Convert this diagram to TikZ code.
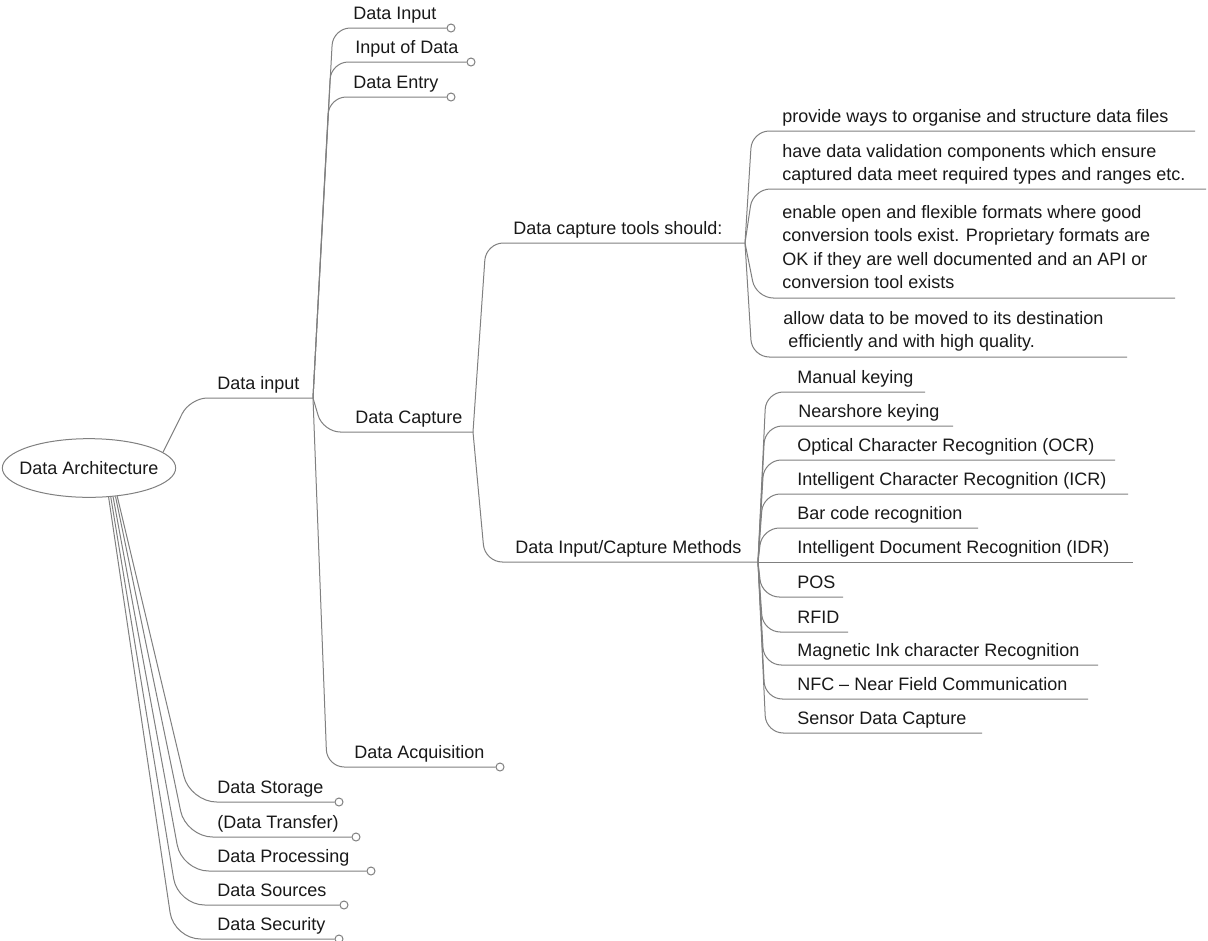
\documentclass[tikz,border=0pt]{standalone}
\usepackage{fontspec}
\setmainfont{Liberation Sans}
\usetikzlibrary{shapes.geometric}
\definecolor{linkgray}{RGB}{128,128,128}
\definecolor{inkcol}{RGB}{25,25,25}
% left-aligned block of lines whose baseline is the first line's baseline
\newcommand{\toplines}[1]{\begin{tabular}[t]{@{}l@{}}#1\end{tabular}}
\begin{document}
\begin{tikzpicture}[x=0.75pt,y=-0.75pt,
  every node/.style={font=\fontsize{13.5}{17.6}\selectfont, text=inkcol},
  topic/.style={anchor=base west, inner sep=0pt},
  link/.style={draw=linkgray, line width=0.75pt, rounded corners=13pt},
  fanlink/.style={link, rounded corners=20pt},
  enddot/.style={circle, draw=linkgray, fill=white, line width=0.75pt, inner sep=0pt, minimum size=6pt}]

\useasboundingbox (0,0) rectangle (1208,940);
\fill[white] (0,0) rectangle (1208,940);

% central topic: the ellipse size is fixed by the minimum sizes alone
\node[ellipse, draw=linkgray, line width=0.75pt, minimum width=130pt,
      minimum height=44pt, inner sep=0pt] (root) at (89,468) {\makebox[0pt]{Data Architecture}};

% ---------- Data input ----------
\coordinate (din-k) at (190,398);
\coordinate (din-e) at (313,398);
\node[topic] (din) at (217,389) {Data input};
\draw[link] (root.12) -- (din-k) -- (din-e);

\coordinate (di1-k) at (333,28);
\node[enddot] (di1-dot) at (451,28) {};
\node[topic] (di1) at (353,19) {Data Input};
\draw[link] (din-e) -- (di1-k) -- (di1-dot.west);

\coordinate (di2-k) at (331,62);
\node[enddot] (di2-dot) at (471,62) {};
\node[topic] (di2) at (355,53) {Input of Data};
\draw[link] (din-e) -- (di2-k) -- (di2-dot.west);

\coordinate (di3-k) at (329,97);
\node[enddot] (di3-dot) at (451,97) {};
\node[topic] (di3) at (353,88) {Data Entry};
\draw[link] (din-e) -- (di3-k) -- (di3-dot.west);

\coordinate (cap-k) at (323,432);
\coordinate (cap-e) at (473,432);
\node[topic] (cap) at (355,423) {Data Capture};
\draw[link] (din-e) -- (cap-k) -- (cap-e);

\coordinate (acq-k) at (327,767);
\node[enddot] (acq-dot) at (500,767) {};
\node[topic] (acq) at (354,758) {Data Acquisition};
\draw[link] (din-e) -- (acq-k) -- (acq-dot.west);

% ---------- Data Capture ----------
\coordinate (tools-k) at (486,243);
\coordinate (tools-e) at (745,243);
\node[topic] (tools) at (513,234) {Data capture tools should:};
\draw[link] (cap-e) -- (tools-k) -- (tools-e);

\coordinate (meth-k) at (485,562);
\coordinate (meth-e) at (758,562);
\node[topic] (meth) at (515,553) {Data Input/Capture Methods};
\draw[link] (cap-e) -- (meth-k) -- (meth-e);

% ---------- Data capture tools should ----------
\coordinate (t1-k) at (752,131);
\coordinate (t1-e) at (1195,131);
\node[topic] (t1) at (782,122) {provide ways to organise and structure data files};
\draw[link] (tools-e) -- (t1-k) -- (t1-e);

\coordinate (t2-k) at (753,189);
\coordinate (t2-e) at (1206,189);
\node[topic] (t2) at (782,157) {\toplines{have data validation components which ensure\\captured data meet required types and ranges etc.}};
\draw[link] (tools-e) -- (t2-k) -- (t2-e);

\coordinate (t3-k) at (756,298);
\coordinate (t3-e) at (1175,298);
\node[topic] (t3) at (782,218.5) {\toplines{enable open and flexible formats where good\\conversion tools exist. Proprietary formats are\\OK if they are well documented and an API or\\conversion tool exists}};
\draw[link] (tools-e) -- (t3-k) -- (t3-e);

\coordinate (t4-k) at (752,357);
\coordinate (t4-e) at (1127,357);
\node[topic] (t4) at (783,324.5) {\toplines{allow data to be moved to its destination\\\hspace*{0.28em}efficiently and with high quality.}};
\draw[link] (tools-e) -- (t4-k) -- (t4-e);

% ---------- Data Input/Capture Methods ----------
\coordinate (m1-k) at (766,392);  \coordinate (m1-e) at (925,392);
\node[topic] (m1) at (797,383) {Manual keying};
\draw[link] (meth-e) -- (m1-k) -- (m1-e);

\coordinate (m2-k) at (765,426);  \coordinate (m2-e) at (953,426);
\node[topic] (m2) at (798,417) {Nearshore keying};
\draw[link] (meth-e) -- (m2-k) -- (m2-e);

\coordinate (m3-k) at (764,460);  \coordinate (m3-e) at (1115,460);
\node[topic] (m3) at (797,451) {Optical Character Recognition (OCR)};
\draw[link] (meth-e) -- (m3-k) -- (m3-e);

\coordinate (m4-k) at (763,494);  \coordinate (m4-e) at (1128,494);
\node[topic] (m4) at (797,485) {Intelligent Character Recognition (ICR)};
\draw[link] (meth-e) -- (m4-k) -- (m4-e);

\coordinate (m5-k) at (762,528);  \coordinate (m5-e) at (978,528);
\node[topic] (m5) at (797,519) {Bar code recognition};
\draw[link] (meth-e) -- (m5-k) -- (m5-e);

\coordinate (m6-e) at (1133,562);
\node[topic] (m6) at (797,553) {Intelligent Document Recognition (IDR)};
\draw[link] (meth-e) -- (m6-e);

\coordinate (m7-k) at (762,597);  \coordinate (m7-e) at (843,597);
\node[topic] (m7) at (797,588) {POS};
\draw[link] (meth-e) -- (m7-k) -- (m7-e);

\coordinate (m8-k) at (763,632);  \coordinate (m8-e) at (848,632);
\node[topic] (m8) at (797,623) {RFID};
\draw[link] (meth-e) -- (m8-k) -- (m8-e);

\coordinate (m9-k) at (764,665);  \coordinate (m9-e) at (1098,665);
\node[topic] (m9) at (797,656) {Magnetic Ink character Recognition};
\draw[link] (meth-e) -- (m9-k) -- (m9-e);

\coordinate (m10-k) at (765,699); \coordinate (m10-e) at (1088,699);
\node[topic] (m10) at (797,690) {NFC – Near Field Communication};
\draw[link] (meth-e) -- (m10-k) -- (m10-e);

\coordinate (m11-k) at (766,733); \coordinate (m11-e) at (982,733);
\node[topic] (m11) at (797,724) {Sensor Data Capture};
\draw[link] (meth-e) -- (m11-k) -- (m11-e);

% ---------- lower branches of the central topic ----------
\coordinate (b1-k) at (190,802);
\node[enddot] (b1-dot) at (339,802) {};
\node[topic] (b1) at (217,793) {Data Storage};
\draw[fanlink] (root.-45) -- (b1-k) -- (b1-dot.west);

\coordinate (b2-k) at (186,837);
\node[enddot] (b2-dot) at (356,837) {};
\node[topic] (b2) at (217,828) {(Data Transfer)};
\draw[fanlink] (root.-47.5) -- (b2-k) -- (b2-dot.west);

\coordinate (b3-k) at (182,871);
\node[enddot] (b3-dot) at (371,871) {};
\node[topic] (b3) at (217,862) {Data Processing};
\draw[fanlink] (root.-50) -- (b3-k) -- (b3-dot.west);

\coordinate (b4-k) at (178,905);
\node[enddot] (b4-dot) at (344,905) {};
\node[topic] (b4) at (217,896) {Data Sources};
\draw[fanlink] (root.-53) -- (b4-k) -- (b4-dot.west);

\coordinate (b5-k) at (174,939);
\node[enddot] (b5-dot) at (339,939) {};
\node[topic] (b5) at (217,930) {Data Security};
\draw[fanlink] (root.-56) -- (b5-k) -- (b5-dot.west);

\end{tikzpicture}
\end{document}
